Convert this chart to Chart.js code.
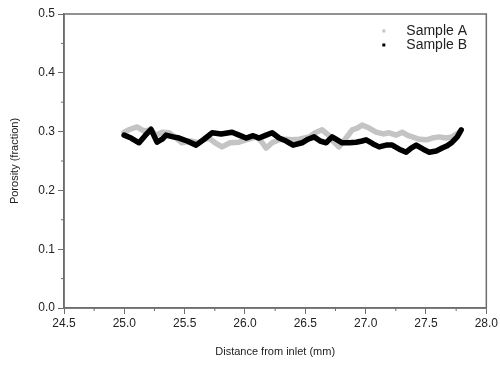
<!DOCTYPE html>
<html>
<head>
<meta charset="utf-8">
<script src="https://cdn.jsdelivr.net/npm/chart.js@4.4.0/dist/chart.umd.min.js"></script>
<style>
    html, body { margin: 0; padding: 0; background: #fff; }
    #wrap { width: 500px; height: 366px; position: relative; }
</style>
</head>
<body>
<div id="wrap"><canvas id="porosityChart"></canvas></div>
<script>
// distance from inlet (mm) and porosity (fraction)
const distA = [24.998, 25.047, 25.105, 25.163, 25.213, 25.263, 25.313, 25.371, 25.429, 25.478,
    25.545, 25.619, 25.661, 25.702, 25.752, 25.810, 25.876, 25.951, 26.026, 26.092,
    26.133, 26.175, 26.225, 26.283, 26.341, 26.391, 26.449, 26.532, 26.581, 26.639,
    26.697, 26.739, 26.780, 26.830, 26.888, 26.930, 26.971, 27.029, 27.087, 27.145,
    27.195, 27.253, 27.303, 27.344, 27.386, 27.444, 27.502, 27.551, 27.609, 27.667,
    27.717, 27.775];
const porosityA = [0.299, 0.304, 0.308, 0.301, 0.303, 0.294, 0.299, 0.298, 0.289, 0.281,
    0.284, 0.281, 0.287, 0.289, 0.281, 0.274, 0.281, 0.282, 0.287, 0.291,
    0.284, 0.272, 0.281, 0.286, 0.287, 0.286, 0.287, 0.291, 0.298, 0.303,
    0.293, 0.282, 0.274, 0.287, 0.303, 0.306, 0.311, 0.306, 0.299, 0.296,
    0.298, 0.294, 0.299, 0.294, 0.291, 0.287, 0.286, 0.289, 0.291, 0.289,
    0.291, 0.299];

const distB = [24.998, 25.056, 25.122, 25.172, 25.221, 25.271, 25.313, 25.346, 25.404, 25.454,
    25.520, 25.595, 25.661, 25.727, 25.802, 25.893, 25.951, 26.009, 26.067, 26.117,
    26.175, 26.225, 26.283, 26.341, 26.399, 26.473, 26.523, 26.573, 26.623, 26.672,
    26.722, 26.764, 26.805, 26.863, 26.921, 26.971, 27.004, 27.062, 27.112, 27.170,
    27.220, 27.278, 27.336, 27.377, 27.419, 27.477, 27.527, 27.585, 27.634, 27.676,
    27.717, 27.759, 27.792];
const porosityB = [0.294, 0.289, 0.281, 0.293, 0.304, 0.282, 0.287, 0.294, 0.291, 0.289,
    0.284, 0.277, 0.287, 0.298, 0.296, 0.299, 0.294, 0.289, 0.293, 0.289,
    0.294, 0.298, 0.289, 0.284, 0.277, 0.281, 0.287, 0.291, 0.284, 0.281,
    0.291, 0.286, 0.281, 0.281, 0.282, 0.284, 0.286, 0.279, 0.274, 0.277,
    0.277, 0.270, 0.265, 0.272, 0.277, 0.270, 0.265, 0.267, 0.272, 0.276,
    0.282, 0.291, 0.303];

const seriesNames = ['Sample A', 'Sample B'];
const seriesColors = ['#c4c4c4', '#000000'];

const xTicks = [24.5, 25.0, 25.5, 26.0, 26.5, 27.0, 27.5, 28.0];
const yTicks = [0.0, 0.1, 0.2, 0.3, 0.4, 0.5];

const axisColor = '#6e6e6e';
const textColor = '#222';

// box around plot + minor ticks + legend inside the plot
const framePlugin = {
    id: 'frame',
    afterDraw(chart) {
        const ctx = chart.ctx;
        const a = chart.chartArea;
        const xs = chart.scales.x;
        const ys = chart.scales.y;
        ctx.save();
        ctx.strokeStyle = axisColor;
        ctx.lineWidth = 1.5;
        ctx.strokeRect(a.left, a.top, a.right - a.left, a.bottom - a.top);

        ctx.lineWidth = 1;
        for (let i = 0; i < xTicks.length - 1; i++) {
            const px = xs.getPixelForValue((xTicks[i] + xTicks[i + 1]) / 2);
            ctx.beginPath();
            ctx.moveTo(px, a.bottom);
            ctx.lineTo(px, a.bottom + 3);
            ctx.stroke();
        }
        for (let i = 0; i < yTicks.length - 1; i++) {
            const py = ys.getPixelForValue((yTicks[i] + yTicks[i + 1]) / 2);
            ctx.beginPath();
            ctx.moveTo(a.left, py);
            ctx.lineTo(a.left - 3, py);
            ctx.stroke();
        }

        // legend
        ctx.font = '14px "Liberation Sans", Arial, sans-serif';
        ctx.textBaseline = 'middle';
        seriesNames.forEach((name, i) => {
            const ly = a.top + 17 + i * 14;
            ctx.fillStyle = seriesColors[i];
            ctx.fillRect(a.right - 104, ly - 1.5, 3, 3);
            ctx.fillStyle = textColor;
            ctx.fillText(name, a.right - 80, ly);
        });
        ctx.restore();
    }
};

const ctx = document.getElementById('porosityChart').getContext('2d');
const porosityChart = new Chart(ctx, {
    type: 'line',
    data: {
        datasets: [
            {
                label: seriesNames[0],
                data: distA.map((d, i) => ({ x: d, y: porosityA[i] })),
                borderColor: seriesColors[0],
                backgroundColor: seriesColors[0],
                borderWidth: 5.5,
                pointRadius: 0,
                tension: 0,
                borderJoinStyle: 'round',
                borderCapStyle: 'round',
                fill: false,
                order: 1
            },
            {
                label: seriesNames[1],
                data: distB.map((d, i) => ({ x: d, y: porosityB[i] })),
                borderColor: seriesColors[1],
                backgroundColor: seriesColors[1],
                borderWidth: 5.5,
                pointRadius: 0,
                tension: 0,
                borderJoinStyle: 'round',
                borderCapStyle: 'round',
                fill: false,
                order: 0
            }
        ]
    },
    options: {
        responsive: true,
        maintainAspectRatio: false,
        animation: false,
        layout: { padding: { left: 0, right: 13, top: 14, bottom: 0 } },
        plugins: {
            legend: { display: false },
            tooltip: { enabled: false }
        },
        scales: {
            x: {
                type: 'linear',
                min: 24.5,
                max: 28.0,
                afterBuildTicks: scale => { scale.ticks = xTicks.map(v => ({ value: v })); },
                afterFit: scale => { scale.height = 58; },
                ticks: {
                    color: textColor,
                    font: { size: 12, family: '"Liberation Sans", Arial, sans-serif' },
                    padding: 2,
                    maxRotation: 0,
                    callback: v => v.toFixed(1)
                },
                grid: { drawOnChartArea: false, drawTicks: true, tickLength: 6, color: axisColor, lineWidth: 1 },
                border: { display: true, color: axisColor, width: 1.5 },
                title: {
                    display: true,
                    text: 'Distance from inlet (mm)',
                    color: textColor,
                    font: { size: 11, family: '"Liberation Sans", Arial, sans-serif' },
                    padding: { top: 0, bottom: 7 }
                }
            },
            y: {
                type: 'linear',
                min: 0,
                max: 0.5,
                afterBuildTicks: scale => { scale.ticks = yTicks.map(v => ({ value: v })); },
                afterFit: scale => { scale.width = 64; },
                ticks: {
                    color: textColor,
                    font: { size: 12, family: '"Liberation Sans", Arial, sans-serif' },
                    padding: 3,
                    callback: v => v.toFixed(1)
                },
                grid: { drawOnChartArea: false, drawTicks: true, tickLength: 6, color: axisColor, lineWidth: 1 },
                border: { display: true, color: axisColor, width: 1.5 },
                title: {
                    display: true,
                    text: 'Porosity (fraction)',
                    color: textColor,
                    font: { size: 11, family: '"Liberation Sans", Arial, sans-serif' },
                    padding: { top: 8, bottom: 0 }
                }
            }
        }
    },
    plugins: [framePlugin]
});
</script>
</body>
</html>
